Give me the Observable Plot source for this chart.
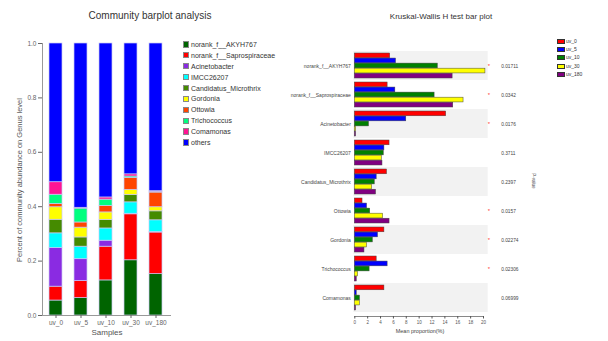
<!DOCTYPE html>
<html>
<head>
<meta charset="utf-8">
<script src="https://cdn.jsdelivr.net/npm/d3@7"></script>
<script src="https://cdn.jsdelivr.net/npm/@observablehq/plot@0.6"></script>
<style>
  body { margin: 0; background: #fff; font-family: "Liberation Sans", Arial, sans-serif; }
  #page { position: relative; width: 608px; height: 341px; overflow: hidden; background: #fff; }
  #page svg { position: absolute; top: 0; }
  .lbl { position: absolute; white-space: nowrap; line-height: 1; color: #333; transform: translate(-50%, -50%); }
  .key { position: absolute; white-space: nowrap; line-height: 1; color: #333; }
  .sw { position: absolute; }
</style>
</head>
<body>
<div id="page"></div>
<script>
// Samples and genera
const samples = ["uv_0", "uv_5", "uv_10", "uv_30", "uv_180"];
const taxa = ["norank_f__AKYH767", "norank_f__Saprospiraceae", "Acinetobacter", "IMCC26207",
  "Candidatus_Microthrix", "Gordonia", "Ottowia", "Trichococcus", "Comamonas", "others"];
const taxonColors = ["#006400", "#ff0000", "#8a2be2", "#00ffff", "#458b00",
  "#ffff00", "#ff4500", "#00ff7f", "#ff1493", "#0000ff"];
const sampleColors = ["#ff0000", "#0000ff", "#008000", "#ffff00", "#800080"];

// Mean relative abundance (%) of each genus, one value per sample
const AKYH767 = [5.5, 6.4, 12.9, 20.3, 15.2];
const Saprospiraceae = [5.1, 6.3, 12.4, 16.9, 15.3];
const Acinetobacter = [14.2, 8.0, 2.2, 0.2, 0.2];
const IMCC26207 = [5.4, 4.6, 4.5, 4.2, 4.3];
const Microthrix = [5.0, 3.4, 3.1, 2.7, 3.3];
const Gordonia = [4.6, 3.6, 2.8, 1.9, 1.5];
const Ottowia = [1.2, 1.9, 2.4, 4.4, 5.4];
const Trichococcus = [3.4, 5.1, 2.3, 0.5, 0.3];
const Comamonas = [4.6, 0.3, 0.8, 0.8, 0.2];
const others = [51.0, 60.4, 56.6, 48.1, 54.3];

// Kruskal-Wallis test: genera in plotted order and their p-values
const testOrder = ["norank_f__AKYH767", "norank_f__Saprospiraceae", "Acinetobacter", "IMCC26207",
  "Candidatus_Microthrix", "Ottowia", "Gordonia", "Trichococcus", "Comamonas"];
const pValues = ["0.01711", "0.0342", "0.0176", "0.3711", "0.2397", "0.0157", "0.02274", "0.02306", "0.06999"];
const propTicks = [0, 2, 4, 6, 8, 10, 12, 14, 16, 18, 20];
const fracTicks = [0, 0.2, 0.4, 0.6, 0.8, 1];

const series = {
  "norank_f__AKYH767": AKYH767, "norank_f__Saprospiraceae": Saprospiraceae,
  "Acinetobacter": Acinetobacter, "IMCC26207": IMCC26207, "Candidatus_Microthrix": Microthrix,
  "Gordonia": Gordonia, "Ottowia": Ottowia, "Trichococcus": Trichococcus,
  "Comamonas": Comamonas, "others": others
};

const page = document.getElementById("page");
const font = '"Liberation Sans", Arial, sans-serif';

// ---------- Community barplot (stacked) ----------
const stackRows = samples.flatMap((s, i) => taxa.map(t => ({sample: s, taxon: t, frac: series[t][i] / 100})));

const left = Plot.plot({
  width: 300, height: 341,
  marginLeft: 42, marginRight: 130, marginTop: 43, marginBottom: 26,
  style: {fontFamily: font, color: "#666", background: "transparent", overflow: "visible"},
  x: {domain: samples, range: [43, 168], paddingInner: 0.48, paddingOuter: 0.24, axis: null},
  y: {domain: [0, 1], axis: null},
  color: {domain: taxa, range: taxonColors},
  marks: [
    Plot.barY(stackRows, {x: "sample", y: "frac", fill: "taxon", stroke: "#c8c8f4", strokeWidth: 0.7}),
    Plot.frame({anchor: "left", stroke: "#999"}),
    Plot.frame({anchor: "bottom", stroke: "#999"}),
    Plot.axisY({ticks: fracTicks, tickSize: 4, tickPadding: 2, fontSize: 6.5, label: null}),
    Plot.axisX({tickSize: 3, tickPadding: 2, fontSize: 6.5, label: null})
  ]
});
left.style.left = "0px";
page.appendChild(left);

// ---------- Kruskal-Wallis bar plot ----------
const testRows = testOrder.flatMap(g => samples.map((s, i) => ({genus: g, sample: s, pct: series[g][i]})));
const yRange = [50, 313.5];
const rowStep = (yRange[1] - yRange[0]) / testOrder.length;
const rowPad = 2;
const barH = (rowStep - 2 * rowPad) / samples.length;
const shaded = testOrder.filter((g, i) => i % 2 === 0);
const significant = testOrder.filter((g, i) => +pValues[i] < 0.05);

const right = Plot.plot({
  width: 358, height: 341,
  marginLeft: 104.3, marginRight: 125, marginTop: 50, marginBottom: 25,
  style: {fontFamily: font, color: "#555", background: "transparent", overflow: "visible"},
  x: {domain: [0, 20], axis: null},
  y: {domain: testOrder, range: yRange, padding: 0, axis: null},
  marks: [
    Plot.barX(shaded, {y: d => d, x1: propTicks[0], x2: propTicks[propTicks.length - 1],
      fill: "#f2f2f2", insetLeft: -1, insetRight: -4.7}),
    ...samples.map((s, k) => Plot.barX(testRows.filter(r => r.sample === s), {
      y: "genus", x: "pct", fill: sampleColors[k], stroke: "#444", strokeWidth: 0.5,
      insetTop: rowPad + k * barH, insetBottom: rowPad + (samples.length - 1 - k) * barH
    })),
    Plot.text(testOrder, {y: d => d, text: (d, i) => pValues[i], frameAnchor: "right",
      textAnchor: "start", dx: 17.7, fontSize: 4.8, fill: "#444"}),
    Plot.text(significant, {y: d => d, text: () => "*", frameAnchor: "right",
      textAnchor: "middle", dx: 5.3, dy: 0, fontSize: 6, fill: "#ff4040"}),
    Plot.axisY({anchor: "left", tickSize: 0, tickPadding: 4, fontSize: 5, fill: "#444", label: null}),
    Plot.frame({anchor: "bottom", stroke: "#888"}),
    Plot.axisX({ticks: propTicks, tickSize: 2.5, tickPadding: 1.5, fontSize: 4.5, label: null})
  ]
});
right.style.left = "250px";
page.appendChild(right);

// ---------- Titles, axis titles and legends ----------
function addLabel(text, x, y, size, rotate, color) {
  const d = document.createElement("div");
  d.className = "lbl";
  d.textContent = text;
  d.style.left = x + "px";
  d.style.top = y + "px";
  d.style.fontSize = size + "px";
  if (color) d.style.color = color;
  if (rotate) d.style.transform = `translate(-50%, -50%) rotate(${rotate}deg)`;
  page.appendChild(d);
}
addLabel("Community barplot analysis", 150, 16, 10, 0, "#333");
addLabel("Kruskal-Wallis H test bar plot", 441, 17, 8, 0, "#333");
addLabel("Percent of community abundance on Genus level", 20, 180, 7.5, -90, "#555");
addLabel("Samples", 107, 333, 8, 0, "#555");
addLabel("Mean proportion(%)", 420, 332, 5.5, 0, "#444");
addLabel("P-value", 533, 181, 4.5, 90, "#444");

function addKey(items, colors, x, y0, step, w, h, gap, size, border) {
  items.forEach((t, i) => {
    const cy = y0 + i * step;
    const sw = document.createElement("div");
    sw.className = "sw";
    sw.style.left = x + "px";
    sw.style.top = (cy - h / 2) + "px";
    sw.style.width = w + "px";
    sw.style.height = h + "px";
    sw.style.background = colors[i];
    sw.style.boxSizing = "border-box";
    sw.style.border = border;
    page.appendChild(sw);
    const k = document.createElement("div");
    k.className = "key";
    k.textContent = t;
    k.style.left = (x + w + gap) + "px";
    k.style.top = (cy - size / 2) + "px";
    k.style.fontSize = size + "px";
    page.appendChild(k);
  });
}
addKey(taxa, taxonColors, 182.5, 44.3, 10.93, 6.5, 6.5, 2, 7, "0.5px solid #888");
addKey(samples, sampleColors, 557, 41.3, 8.25, 8, 5, 1, 5, "0.6px solid #333");
</script>
</body>
</html>
